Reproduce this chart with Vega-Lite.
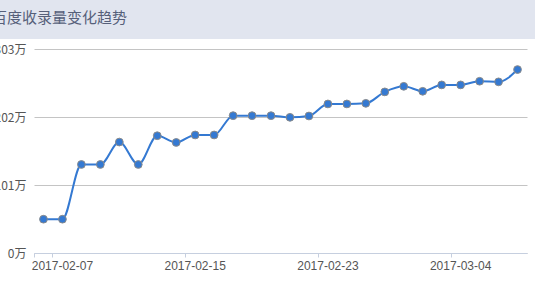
{
  "$schema": "https://vega.github.io/schema/vega-lite/v6.json",
  "autosize": "none",
  "width": 535,
  "height": 247,
  "padding": {"left": 0, "top": 39, "right": 0, "bottom": 0},
  "background": "#e1e5ef",
  "view": {"fill": "#ffffff", "stroke": null},
  "title": {
    "text": "百度收录量变化趋势",
    "anchor": "start",
    "frame": "group",
    "font": "Noto Sans CJK SC",
    "fontSize": 15,
    "fontWeight": "normal",
    "color": "#56607a",
    "dx": -8,
    "offset": 6,
    "baseline": "middle"
  },
  "data": {
    "values": [
      {"date": "2017-02-06", "v": 50.2},
      {"date": "2017-02-07", "v": 50.2},
      {"date": "2017-02-08", "v": 131.5},
      {"date": "2017-02-09", "v": 131.5},
      {"date": "2017-02-10", "v": 164.8},
      {"date": "2017-02-11", "v": 131.5},
      {"date": "2017-02-12", "v": 174.2},
      {"date": "2017-02-13", "v": 164.2},
      {"date": "2017-02-15", "v": 175.3},
      {"date": "2017-02-16", "v": 175.3},
      {"date": "2017-02-17", "v": 204},
      {"date": "2017-02-18", "v": 204},
      {"date": "2017-02-19", "v": 204},
      {"date": "2017-02-20", "v": 201.5},
      {"date": "2017-02-21", "v": 203.5},
      {"date": "2017-02-23", "v": 221.4},
      {"date": "2017-02-24", "v": 221.4},
      {"date": "2017-02-25", "v": 222.3},
      {"date": "2017-02-26", "v": 239.3},
      {"date": "2017-02-27", "v": 247.6},
      {"date": "2017-02-28", "v": 240.2},
      {"date": "2017-03-01", "v": 249.7},
      {"date": "2017-03-04", "v": 249.7},
      {"date": "2017-03-05", "v": 255.1},
      {"date": "2017-03-06", "v": 254.2},
      {"date": "2017-03-07", "v": 272.5}
    ]
  },
  "encoding": {
    "x": {
      "field": "date",
      "type": "ordinal",
      "sort": null,
      "scale": {"type": "band", "range": [34, 527], "paddingInner": 0, "paddingOuter": 0},
      "axis": {
        "title": null,
        "orient": "bottom",
        "offset": -33,
        "values": ["2017-02-06", "2017-02-07", "2017-02-15", "2017-02-23", "2017-03-04"],
        "labelExpr": "datum.value == '2017-02-06' ? '' : datum.value",
        "bandPosition": 0,
        "labelAngle": 0,
        "grid": false,
        "domainColor": "#c6cfdf",
        "tickColor": "#c6cfdf",
        "tickSize": 4,
        "labelPadding": 3,
        "labelFont": "Liberation Sans",
        "labelFontSize": 12,
        "labelColor": "#555555"
      }
    },
    "y": {
      "field": "v",
      "type": "quantitative",
      "scale": {"domain": [0, 303], "range": [214, 10], "nice": false, "zero": true},
      "axis": {
        "title": null,
        "orient": "left",
        "offset": -34,
        "values": [0, 101, 202, 303],
        "labelExpr": "datum.value + '万'",
        "domain": false,
        "ticks": false,
        "tickSize": 0,
        "labelPadding": 8,
        "grid": true,
        "gridColor": "#c4c4c4",
        "gridWidth": 1,
        "labelFont": "Noto Sans CJK SC",
        "labelFontSize": 12,
        "labelColor": "#555555"
      }
    }
  },
  "layer": [
    {
      "mark": {"type": "line", "interpolate": "monotone", "color": "#3479d2", "strokeWidth": 2}
    },
    {
      "mark": {"type": "point", "filled": true, "fill": "#3479d2", "stroke": "#8a8a8a", "strokeWidth": 1, "size": 60, "opacity": 1}
    }
  ]
}
